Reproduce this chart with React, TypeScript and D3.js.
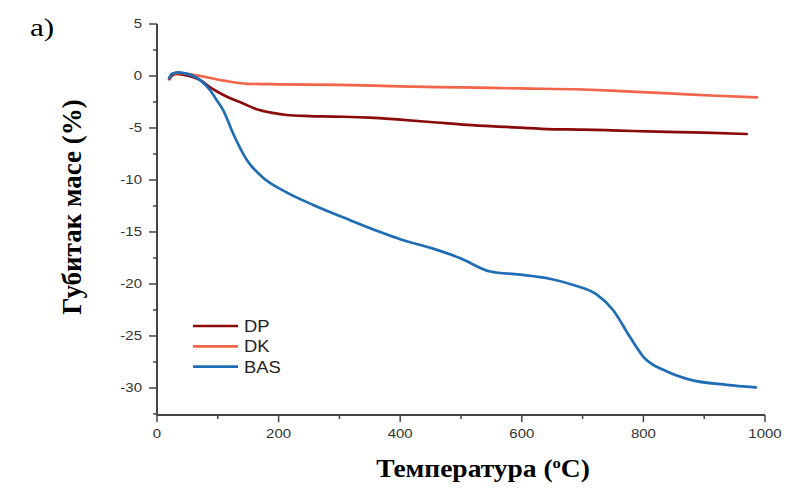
import React from "react";
import * as d3 from "d3";

const dpT = [20, 25, 32, 45, 71, 90, 115, 140, 164, 190, 213, 250, 290, 350, 400, 455, 510, 575, 641, 700, 760, 822, 900, 970];
const dpV = [-0.3, 0.05, 0.2, 0.1, -0.4, -1.2, -2.0, -2.6, -3.2, -3.55, -3.75, -3.85, -3.9, -4.0, -4.2, -4.45, -4.7, -4.9, -5.1, -5.15, -5.25, -5.35, -5.45, -5.58];

const dkT = [20, 25, 35, 49, 80, 110, 148, 200, 300, 400, 500, 600, 700, 762, 850, 920, 987];
const dkV = [-0.2, 0.2, 0.3, 0.2, -0.1, -0.45, -0.75, -0.8, -0.85, -1.0, -1.1, -1.2, -1.3, -1.45, -1.7, -1.9, -2.05];

const basT = [20, 24, 35, 50, 71, 87, 98, 109, 125, 148, 175, 207, 257, 317, 367, 400, 454, 498, 548, 597, 646, 685, 723, 750, 778, 800, 838, 876, 937, 985];
const basV = [-0.2, 0.2, 0.35, 0.2, -0.4, -1.35, -2.3, -3.3, -5.5, -8.1, -9.8, -11.0, -12.4, -13.85, -15.0, -15.7, -16.6, -17.5, -18.8, -19.1, -19.5, -20.1, -21.0, -22.5, -25.1, -27.0, -28.4, -29.2, -29.7, -29.95];

const seriesNames = ["DP", "DK", "BAS"];
const seriesColors = ["#8b0a0a", "#f2654a", "#1f6db5"];

const xTicks = [0, 200, 400, 600, 800, 1000];
const xMinor = [100, 300, 500, 700, 900];
const yTicks = [5, 0, -5, -10, -15, -20, -25, -30];
const yMinor = [2.5, -2.5, -7.5, -12.5, -17.5, -22.5, -27.5, -32.5];

const SX = 1.2;

export default function App() {
  const W = 787, H = 489;
  const x = d3.scaleLinear().domain([0, 1000]).range([157, 765]);
  const y = d3.scaleLinear().domain([5, -32.6]).range([24, 415]);
  const line = d3.line<[number, number]>().x(d => x(d[0])).y(d => y(d[1])).curve(d3.curveMonotoneX);
  const data: [number, number][][] = [
    dpT.map((t, i) => [t, dpV[i]]),
    dkT.map((t, i) => [t, dkV[i]]),
    basT.map((t, i) => [t, basV[i]]),
  ];
  const axisColor = "#444";
  const tickFont = "Liberation Sans, Arial, sans-serif";
  const serif = "Liberation Serif, Times New Roman, serif";
  const x0 = x(0);
  const yb = y(-32.6);
  return (
    <svg width={W} height={H} style={{ position: "absolute", left: 0, top: 0, background: "#fff" }}>
      <text transform={`translate(30,36) scale(1.25,1)`} fontFamily={serif} fontSize={25}>a)</text>
      {data.map((d, i) => (
        <path key={i} d={line(d) || ""} fill="none" stroke={seriesColors[i]} strokeWidth={2.7} strokeLinejoin="round" strokeLinecap="round" />
      ))}
      <line x1={x0} x2={x0} y1={y(5)} y2={yb + 1} stroke={axisColor} strokeWidth={2} />
      <line x1={x0 - 1} x2={x(1000)} y1={yb} y2={yb} stroke={axisColor} strokeWidth={2} />
      {yTicks.map(t => (
        <g key={"y" + t}>
          <line x1={x0 - 8} x2={x0} y1={y(t)} y2={y(t)} stroke={axisColor} strokeWidth={1.5} />
          <text transform={`translate(${x0 - 15},${y(t) + 4.3}) scale(${SX},1)`} textAnchor="end" fontFamily={tickFont} fontSize={12.5} fill="#333">{t}</text>
        </g>
      ))}
      {yMinor.map(t => (
        <line key={"ym" + t} x1={x0 - 4} x2={x0} y1={y(t)} y2={y(t)} stroke={axisColor} strokeWidth={1.5} />
      ))}
      {xTicks.map(t => (
        <g key={"x" + t}>
          <line x1={x(t)} x2={x(t)} y1={yb} y2={yb + 7} stroke={axisColor} strokeWidth={1.5} />
          <text transform={`translate(${x(t)},${yb + 23}) scale(${SX},1)`} textAnchor="middle" fontFamily={tickFont} fontSize={12.5} fill="#333">{t}</text>
        </g>
      ))}
      {xMinor.map(t => (
        <line key={"xm" + t} x1={x(t)} x2={x(t)} y1={yb} y2={yb + 4} stroke={axisColor} strokeWidth={1.5} />
      ))}
      {seriesNames.map((n, i) => (
        <g key={n}>
          <line x1={193} x2={238} y1={326 + i * 20.3} y2={326 + i * 20.3} stroke={seriesColors[i]} strokeWidth={2.7} />
          <text transform={`translate(244,${326 + i * 20.3 + 6}) scale(1.15,1)`} fontFamily={tickFont} fontSize={16} fill="#222">{n}</text>
        </g>
      ))}
      <text transform={`translate(483,477) scale(1.1,1)`} textAnchor="middle" fontFamily={serif} fontWeight="bold" fontSize={25}>
        Температура (<tspan dy={-9} fontSize={15}>o</tspan><tspan dy={9}>C)</tspan>
      </text>
      <text transform={`translate(81,207) rotate(-90)`} textAnchor="middle" fontFamily={serif} fontWeight="bold" fontSize={27}>
        Губитак масе (%)
      </text>
    </svg>
  );
}
